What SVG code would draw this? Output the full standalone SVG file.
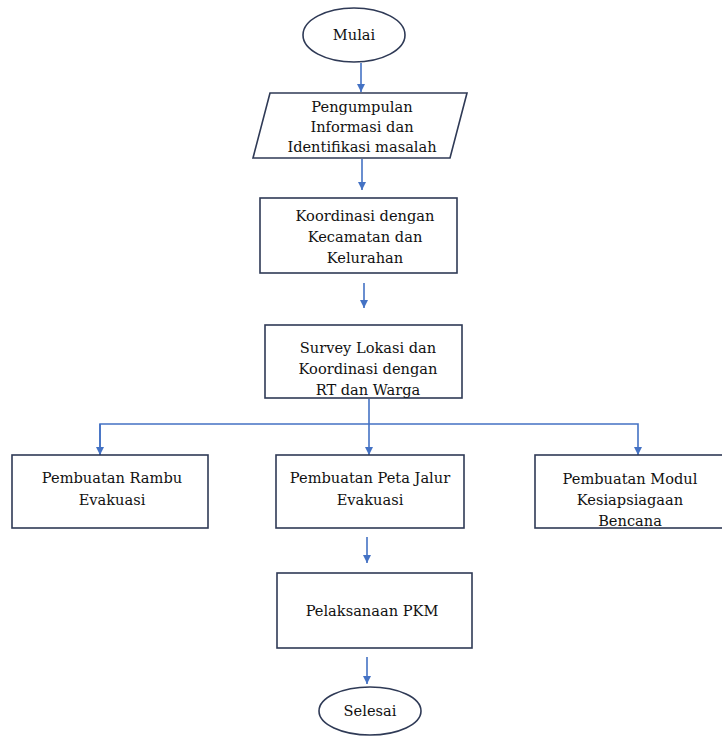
<svg xmlns="http://www.w3.org/2000/svg" width="722" height="740" viewBox="0 0 722 740">
<defs>
<style>
.n{fill:#fff;stroke:#2f3a56;stroke-width:1.6}
.t{font-family:"DejaVu Serif",serif;font-size:14.6px;fill:#111;text-anchor:middle}
.c{fill:none;stroke:#4472c4;stroke-width:1.6}
</style>
<marker id="ah" viewBox="0 0 10 10" refX="10" refY="5" markerWidth="8" markerHeight="8" markerUnits="userSpaceOnUse" orient="auto">
<path d="M0,0 L10,5 L0,10 z" fill="#4472c4"/>
</marker>
</defs>
<rect width="722" height="740" fill="#fff"/>
<g id="connectors">
<path class="c" d="M361,63 V92" marker-end="url(#ah)"/>
<path class="c" d="M362,159 V190" marker-end="url(#ah)"/>
<path class="c" d="M364,283 V308" marker-end="url(#ah)"/>
<path class="c" d="M369,399 V455" marker-end="url(#ah)"/>
<path class="c" d="M100,455 V424 H638 V455" marker-end="url(#ah)"/>
<path class="c" d="M100,424 V455" marker-end="url(#ah)"/>
<path class="c" d="M367,537 V563" marker-end="url(#ah)"/>
<path class="c" d="M367,657 V684" marker-end="url(#ah)"/>
</g>
<g id="mulai">
<ellipse class="n" cx="354" cy="35" rx="51" ry="27"/>
<text class="t" x="354" y="40">Mulai</text>
</g>
<g id="pengumpulan">
<polygon class="n" points="270,93 467,93 450,158 253,158"/>
<text class="t" x="362" y="112">Pengumpulan</text>
<text class="t" x="362" y="132">Informasi dan</text>
<text class="t" x="362" y="152">Identifikasi masalah</text>
</g>
<g id="koordinasi">
<rect class="n" x="260" y="198" width="197" height="75"/>
<text class="t" x="365" y="221">Koordinasi dengan</text>
<text class="t" x="365" y="242">Kecamatan dan</text>
<text class="t" x="365" y="263">Kelurahan</text>
</g>
<g id="survey">
<rect class="n" x="265" y="325" width="197" height="73"/>
<text class="t" x="368" y="353">Survey Lokasi dan</text>
<text class="t" x="368" y="374">Koordinasi dengan</text>
<text class="t" x="368" y="395">RT dan Warga</text>
</g>
<g id="rambu">
<rect class="n" x="12" y="455" width="196" height="73"/>
<text class="t" x="112" y="483">Pembuatan Rambu</text>
<text class="t" x="112" y="505">Evakuasi</text>
</g>
<g id="peta">
<rect class="n" x="276" y="455" width="188" height="73"/>
<text class="t" x="370" y="483">Pembuatan Peta Jalur</text>
<text class="t" x="370" y="505">Evakuasi</text>
</g>
<g id="modul">
<rect class="n" x="535" y="455" width="190" height="73"/>
<text class="t" x="630" y="484">Pembuatan Modul</text>
<text class="t" x="630" y="505">Kesiapsiagaan</text>
<text class="t" x="630" y="526">Bencana</text>
</g>
<g id="pelaksanaan">
<rect class="n" x="277" y="573" width="195" height="75"/>
<text class="t" x="372" y="616">Pelaksanaan PKM</text>
</g>
<g id="selesai">
<ellipse class="n" cx="370" cy="711" rx="51" ry="24"/>
<text class="t" x="370" y="716">Selesai</text>
</g>
</svg>
